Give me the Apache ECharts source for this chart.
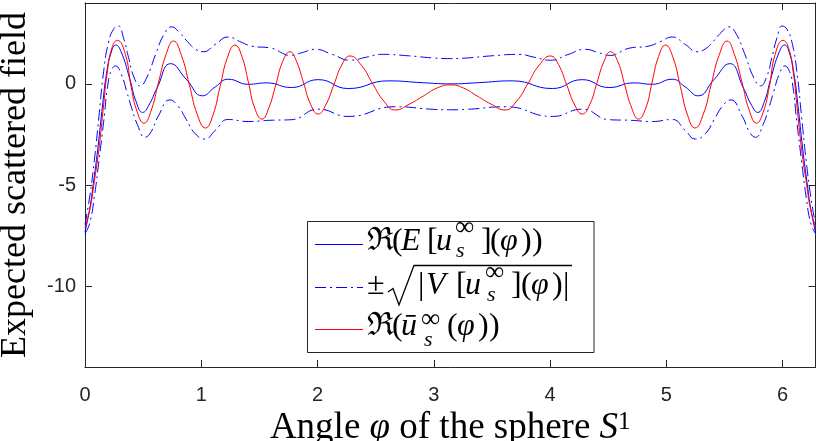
<!DOCTYPE html>
<html>
<head>
<meta charset="utf-8">
<script src="https://cdn.jsdelivr.net/npm/echarts@6/dist/echarts.min.js"></script>
<style>
  html, body { margin: 0; padding: 0; background: #fff; }
  #chart { width: 817px; height: 441px; }
</style>
</head>
<body>
<div id="chart"></div>
<script>
// values (curves are symmetric about phi = pi)
var meanPhi = [0, 0.04, 0.07, 0.11, 0.152, 0.185, 0.225, 0.265, 0.31, 0.385, 0.44, 0.496, 0.55, 0.62, 0.737, 0.875, 1.009, 1.12, 1.232, 1.404, 1.562, 1.777, 2.006, 2.264, 2.608, 2.9, 3.1416,
  3.383, 3.675, 4.019, 4.277, 4.506, 4.721, 4.879, 5.051, 5.163, 5.274, 5.408, 5.546, 5.663, 5.733, 5.787, 5.843, 5.898, 5.973, 6.018, 6.058, 6.098, 6.131, 6.173, 6.213, 6.243, 6.2832];
var meanVal = [-7.32, -6.2, -5.0, -3.2, -1.0, 0.5, 1.55, 1.92, 1.6, 0.25, -0.88, -1.41, -1.05, -0.2, 1.0, 0.2, -0.59, -0.15, 0.23, -0.02, 0.05, -0.18, 0.21, -0.23, 0.15, 0.06, 0.0,
  0.06, 0.15, -0.23, 0.21, -0.18, 0.05, -0.02, 0.23, -0.15, -0.59, 0.2, 1.0, -0.2, -1.05, -1.41, -0.88, 0.25, 1.6, 1.92, 1.55, 0.5, -1.0, -3.2, -5.0, -6.2, -7.32];

var upperPhi = [0, 0.04, 0.08, 0.12, 0.16, 0.2, 0.245, 0.288, 0.33, 0.375, 0.42, 0.473, 0.53, 0.61, 0.68, 0.745, 0.81, 0.88, 0.95, 1.017, 1.12, 1.232, 1.33, 1.433, 1.605, 1.72, 1.763, 1.87, 1.978, 2.13, 2.279, 2.42, 2.55, 2.78, 3.0, 3.1416,
  3.283, 3.503, 3.733, 3.863, 4.004, 4.153, 4.305, 4.413, 4.52, 4.563, 4.678, 4.85, 4.953, 5.051, 5.163, 5.266, 5.333, 5.403, 5.473, 5.538, 5.603, 5.673, 5.753, 5.81, 5.863, 5.908, 5.953, 5.995, 6.038, 6.083, 6.123, 6.163, 6.203, 6.243, 6.2832];
var upperVal = [-6.95, -5.6, -3.8, -1.6, 0.6, 2.0, 2.7, 2.86, 2.3, 1.3, 0.35, -0.1, 0.3, 1.5, 2.45, 2.82, 2.55, 2.1, 1.72, 1.59, 1.95, 2.32, 2.1, 1.87, 1.76, 1.46, 1.41, 1.55, 1.71, 1.45, 1.17, 1.32, 1.46, 1.39, 1.28, 1.25,
  1.28, 1.39, 1.46, 1.32, 1.17, 1.45, 1.71, 1.55, 1.41, 1.46, 1.76, 1.87, 2.1, 2.32, 1.95, 1.59, 1.72, 2.1, 2.55, 2.82, 2.45, 1.5, 0.3, -0.1, 0.35, 1.3, 2.3, 2.86, 2.7, 2.0, 0.6, -1.6, -3.8, -5.6, -6.95];

var lowerPhi = [0, 0.04, 0.08, 0.12, 0.16, 0.2, 0.23, 0.262, 0.31, 0.36, 0.4, 0.45, 0.516, 0.57, 0.63, 0.73, 0.8, 0.87, 0.946, 1.032, 1.12, 1.232, 1.404, 1.59, 1.777, 2.006, 2.264, 2.666, 3.0, 3.1416,
  3.283, 3.617, 4.019, 4.277, 4.506, 4.693, 4.879, 5.051, 5.163, 5.251, 5.337, 5.413, 5.483, 5.553, 5.653, 5.713, 5.767, 5.833, 5.883, 5.923, 5.973, 6.021, 6.053, 6.083, 6.123, 6.163, 6.203, 6.243, 6.2832];
var lowerVal = [-7.4, -6.9, -5.6, -3.8, -1.9, 0.1, 0.7, 0.89, 0.5, -0.4, -1.17, -2.0, -2.64, -2.35, -1.6, -0.79, -1.1, -1.75, -2.45, -2.73, -2.3, -1.76, -1.86, -1.8, -1.77, -1.25, -1.61, -1.13, -1.26, -1.28,
  -1.26, -1.13, -1.61, -1.25, -1.77, -1.8, -1.86, -1.76, -2.3, -2.73, -2.45, -1.75, -1.1, -0.79, -1.6, -2.35, -2.64, -2.0, -1.17, -0.4, 0.5, 0.89, 0.7, 0.1, -1.9, -3.8, -5.6, -6.9, -7.4];

var barPhi = [0, 0.046, 0.075, 0.118, 0.161, 0.189, 0.232, 0.278, 0.347, 0.398, 0.45, 0.507, 0.57, 0.633, 0.7, 0.76, 0.83, 0.897, 0.965, 1.036, 1.1, 1.162, 1.225, 1.29, 1.35, 1.405, 1.46, 1.523, 1.58, 1.64, 1.7, 1.763, 1.82, 1.88, 1.94, 2.006, 2.07, 2.14, 2.21, 2.279, 2.38, 2.47, 2.57, 2.67, 2.79, 2.91, 3.03, 3.1416,
  3.253, 3.373, 3.493, 3.613, 3.713, 3.813, 3.903, 4.004, 4.073, 4.143, 4.213, 4.277, 4.343, 4.403, 4.463, 4.52, 4.583, 4.643, 4.703, 4.76, 4.823, 4.878, 4.933, 4.993, 5.058, 5.121, 5.183, 5.247, 5.318, 5.386, 5.453, 5.523, 5.583, 5.65, 5.713, 5.776, 5.833, 5.885, 5.936, 6.005, 6.051, 6.094, 6.122, 6.165, 6.208, 6.237, 6.2832];
var barVal = [-7.11, -6.09, -5.02, -3.3, -1.0, 0.48, 1.79, 2.15, 1.46, -0.18, -1.4, -1.94, -1.3, 0.1, 1.5, 2.12, 1.4, -0.03, -1.5, -2.18, -1.55, -0.13, 1.3, 1.92, 1.35, 0.09, -1.2, -1.74, -1.2, -0.07, 1.1, 1.59, 1.1, 0.05, -1.0, -1.49, -1.05, -0.05, 0.95, 1.38, 0.9, 0.05, -0.85, -1.29, -1.0, -0.6, -0.2, -0.05,
  -0.2, -0.6, -1.0, -1.29, -0.85, 0.05, 0.9, 1.38, 0.95, -0.05, -1.05, -1.49, -1.0, 0.05, 1.1, 1.59, 1.1, -0.07, -1.2, -1.74, -1.2, 0.09, 1.35, 1.92, 1.3, -0.13, -1.55, -2.18, -1.5, -0.03, 1.4, 2.12, 1.5, 0.1, -1.3, -1.94, -1.4, -0.18, 1.46, 2.15, 1.79, 0.48, -1.0, -3.3, -5.02, -6.09, -7.11];

var xTicks = [0, 1, 2, 3, 4, 5, 6];
var yTicks = [-10, -5, 0];

function pairs(xs, ys) {
  return xs.map(function (x, i) { return [x, ys[i]]; });
}

var axisColor = '#262626';
var serif = "'Liberation Serif', 'DejaVu Serif', serif";
var sans = "'Liberation Sans', Arial, sans-serif";
var dashDot = [11, 4, 2, 4];

function boxAxis(pos, extra) {
  var a = {
    type: 'value',
    position: pos,
    axisLine: { show: true, onZero: false, lineStyle: { color: axisColor, width: 1 } },
    axisTick: { show: true, inside: true, length: 7, lineStyle: { color: axisColor } },
    axisLabel: { show: false },
    splitLine: { show: false }
  };
  return Object.assign(a, extra);
}

// legend is laid out by hand, glyph by glyph, to imitate the LaTeX labels
// each entry: [x, text, italic, size, middleY]
var legendGlyphs = [
  [367, 'ℜ', 0, 32, 242], [392, '(', 0, 32, 242], [401, 'E', 1, 32, 242], [427, '[', 0, 32, 242], [436, 'u', 1, 32, 242],
  [455, '∞', 0, 27, 228], [456, 's', 1, 22, 251], [481, ']', 0, 32, 242], [490, '(', 0, 32, 242], [500, 'φ', 1, 32, 242],
  [521, ')', 0, 32, 242], [532, ')', 0, 32, 242],

  [367, '±', 0, 32, 285.5], [418, '|', 0, 32, 285.5], [426, 'V', 1, 32, 285.5], [456, '[', 0, 32, 285.5], [465, 'u', 1, 32, 285.5],
  [485, '∞', 0, 27, 273], [487, 's', 1, 22, 295], [511, ']', 0, 32, 285.5], [521, '(', 0, 32, 285.5], [531, 'φ', 1, 32, 285.5],
  [552, ')', 0, 32, 285.5], [563, '|', 0, 32, 285.5],

  [367, 'ℜ', 0, 32, 327], [392, '(', 0, 32, 327], [401, 'ū', 1, 32, 327],
  [421, '∞', 0, 27, 320], [424, 's', 1, 22, 340], [447, '(', 0, 32, 327], [457, 'φ', 1, 32, 327],
  [478, ')', 0, 32, 327], [489, ')', 0, 32, 327]
];

function glyph(g) {
  return {
    type: 'text', z: 110, x: g[0], y: g[4],
    style: { text: g[1], fontFamily: serif, fontSize: g[3], fontStyle: g[2] ? 'italic' : 'normal', verticalAlign: 'middle', fill: '#000' }
  };
}
function sample(y, color, dash) {
  return { type: 'line', z: 110, shape: { x1: 315, y1: y, x2: 363, y2: y }, style: { stroke: color, lineWidth: 1, lineDash: dash || null } };
}

var chart = echarts.init(document.getElementById('chart'));
chart.setOption({
  animation: false,
  backgroundColor: '#fff',
  grid: { left: 85, right: 1.5, top: 3, bottom: 74, outerBoundsMode: 'none' },
  xAxis: [
    boxAxis('bottom', {
      min: 0, max: 2 * Math.PI,
      axisTick: { show: true, inside: true, length: 7, customValues: xTicks, lineStyle: { color: axisColor } },
      axisLabel: { show: true, customValues: xTicks, margin: 18, color: axisColor, fontSize: 20, fontFamily: sans },
      name: 'Angle {i|φ} of the sphere {i|S}{sup|1}',
      nameLocation: 'middle',
      nameGap: 36,
      nameTextStyle: {
        fontFamily: serif, fontSize: 37, color: '#000',
        rich: {
          i: { fontFamily: serif, fontSize: 37, fontStyle: 'italic', color: '#000' },
          sup: { fontFamily: serif, fontSize: 25, color: '#000', verticalAlign: 'top' }
        }
      }
    }),
    boxAxis('top', {
      min: 0, max: 2 * Math.PI,
      axisTick: { show: true, inside: true, length: 7, customValues: xTicks, lineStyle: { color: axisColor } }
    })
  ],
  yAxis: [
    boxAxis('left', {
      min: -14, max: 4,
      axisTick: { show: true, inside: true, length: 7, customValues: yTicks, lineStyle: { color: axisColor } },
      axisLabel: { show: true, customValues: yTicks, margin: 9, color: axisColor, fontSize: 20, fontFamily: sans },
      name: 'Expected scattered field',
      nameLocation: 'middle',
      nameGap: 51,
      nameTextStyle: { fontFamily: serif, fontSize: 36, color: '#000' }
    }),
    boxAxis('right', {
      min: -14, max: 4,
      axisTick: { show: true, inside: true, length: 7, customValues: yTicks, lineStyle: { color: axisColor } }
    })
  ],
  series: [
    {
      name: 'mean', type: 'line', smooth: 0.5, showSymbol: false,
      lineStyle: { color: '#0000ff', width: 1 },
      data: pairs(meanPhi, meanVal)
    },
    {
      name: 'upper', type: 'line', smooth: 0.5, showSymbol: false,
      lineStyle: { color: '#0000ff', width: 1, type: dashDot },
      data: pairs(upperPhi, upperVal)
    },
    {
      name: 'lower', type: 'line', smooth: 0.5, showSymbol: false,
      lineStyle: { color: '#0000ff', width: 1, type: dashDot },
      data: pairs(lowerPhi, lowerVal)
    },
    {
      name: 'approx', type: 'line', smooth: 0.5, showSymbol: false,
      lineStyle: { color: '#ff0000', width: 1 },
      data: pairs(barPhi, barVal)
    }
  ],
  graphic: [
    { type: 'rect', z: 100, shape: { x: 307.5, y: 221.5, width: 286.5, height: 131 }, style: { fill: '#fff', stroke: axisColor, lineWidth: 1 } },
    sample(244.5, '#0000ff'),
    sample(287.5, '#0000ff', dashDot),
    sample(329.5, '#ff0000'),
    { type: 'polyline', z: 110, shape: { points: [[388, 292], [393, 288.5], [399, 305], [414, 265.5], [572, 265.5]] }, style: { stroke: '#000', lineWidth: 1.3, fill: null } }
  ].concat(legendGlyphs.map(glyph))
});
</script>
</body>
</html>
